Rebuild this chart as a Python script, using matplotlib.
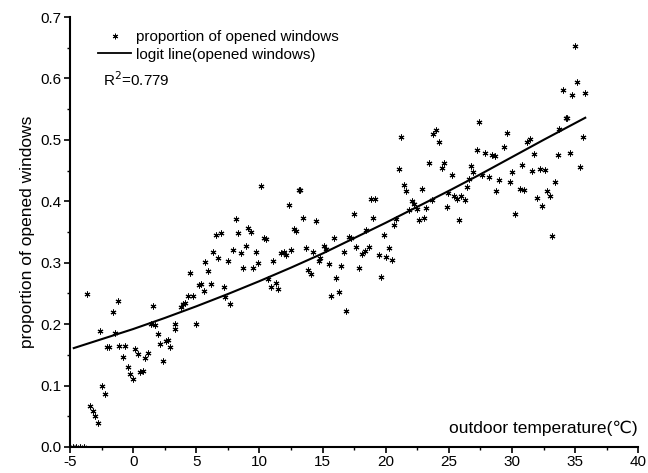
"""
Proportion of opened windows against outdoor temperature, with logit line.
"""
import matplotlib
matplotlib.use("Agg")
from matplotlib import pyplot as plt
from matplotlib.lines import Line2D
from matplotlib.ticker import MultipleLocator

plt.rcParams['font.family'] = ['Liberation Sans', 'DejaVu Sans', 'Noto Sans CJK SC']
plt.rcParams['axes.unicode_minus'] = False

temperature = [
    -4.8, -4.5, -4.2, -3.9, -3.62, -3.38, -3.20, -3.02, -2.81, -2.60, -2.45, -2.24, -2.09, -1.93,
    -1.62, -1.41, -1.23, -1.09, -0.84, -0.68, -0.44, -0.23, -0.02, 0.13, 0.37, 0.55, 0.76, 0.96,
    1.17, 1.38, 1.56, 1.72, 1.93, 2.13, 2.37, 2.60, 2.73, 2.94, 3.28, 3.34, 3.77, 3.98, 4.14, 4.38,
    4.53, 4.74, 4.95, 5.21, 5.37, 5.60, 5.73, 5.94, 6.15, 6.30, 6.54, 6.74, 6.93, 7.16, 7.29, 7.52,
    7.71, 7.92, 8.13, 8.34, 8.52, 8.70, 8.93, 9.09, 9.32, 9.53, 9.71, 9.90, 10.13, 10.36, 10.52,
    10.68, 10.94, 11.10, 11.30, 11.50, 11.72, 11.93, 12.13, 12.32, 12.50, 12.71, 12.92, 13.10,
    13.25, 13.49, 13.70, 13.83, 14.06, 14.27, 14.48, 14.69, 14.79, 15.10, 15.26, 15.50, 15.70,
    15.91, 16.04, 16.27, 16.48, 16.66, 16.88, 17.13, 17.29, 17.45, 17.66, 17.87, 18.13, 18.34,
    18.44, 18.65, 18.85, 19.00, 19.14, 19.48, 19.61, 19.87, 20.05, 20.26, 20.47, 20.65, 20.78,
    21.07, 21.25, 21.46, 21.62, 21.82, 22.07, 22.27, 22.48, 22.60, 22.87, 23.05, 23.20, 23.44,
    23.70, 23.77, 23.98, 24.22, 24.43, 24.63, 24.82, 24.95, 25.26, 25.42, 25.63, 25.80, 25.99,
    26.25, 26.41, 26.56, 26.77, 26.95, 27.21, 27.42, 27.63, 27.87, 28.20, 28.44, 28.65, 28.77,
    28.98, 29.38, 29.58, 29.82, 30.00, 30.20, 30.60, 30.80, 30.96, 31.20, 31.41, 31.59, 31.77,
    32.00, 32.19, 32.40, 32.60, 32.76, 33.02, 33.18, 33.41, 33.62, 33.75, 34.00, 34.27, 34.37,
    34.58, 34.77, 34.97, 35.18, 35.37, 35.60, 35.78,
]
proportion = [
    0.0, 0.0, 0.0, 0.0, 0.249, 0.067, 0.059, 0.050, 0.039, 0.189, 0.099, 0.086, 0.163, 0.163,
    0.219, 0.186, 0.237, 0.164, 0.147, 0.164, 0.130, 0.119, 0.111, 0.159, 0.151, 0.122, 0.123, 0.145,
    0.153, 0.201, 0.230, 0.199, 0.184, 0.168, 0.140, 0.173, 0.174, 0.162, 0.192, 0.201, 0.228, 0.232,
    0.234, 0.246, 0.284, 0.246, 0.201, 0.264, 0.265, 0.254, 0.301, 0.287, 0.265, 0.318, 0.345, 0.308,
    0.349, 0.261, 0.244, 0.303, 0.233, 0.320, 0.371, 0.349, 0.316, 0.292, 0.327, 0.356, 0.350, 0.292,
    0.318, 0.299, 0.425, 0.341, 0.338, 0.273, 0.261, 0.303, 0.267, 0.258, 0.316, 0.317, 0.313, 0.394,
    0.321, 0.355, 0.352, 0.419, 0.419, 0.372, 0.324, 0.288, 0.281, 0.317, 0.368, 0.302, 0.308, 0.328,
    0.322, 0.298, 0.246, 0.340, 0.275, 0.252, 0.294, 0.318, 0.221, 0.342, 0.340, 0.379, 0.326, 0.292,
    0.315, 0.319, 0.353, 0.325, 0.403, 0.372, 0.404, 0.312, 0.277, 0.345, 0.310, 0.324, 0.304, 0.362,
    0.371, 0.453, 0.504, 0.427, 0.416, 0.386, 0.401, 0.396, 0.388, 0.370, 0.420, 0.373, 0.389, 0.462,
    0.402, 0.510, 0.516, 0.496, 0.454, 0.462, 0.390, 0.414, 0.442, 0.408, 0.404, 0.369, 0.409, 0.402,
    0.423, 0.436, 0.458, 0.448, 0.484, 0.529, 0.443, 0.479, 0.440, 0.476, 0.473, 0.416, 0.434, 0.488,
    0.511, 0.432, 0.448, 0.379, 0.420, 0.459, 0.418, 0.496, 0.501, 0.450, 0.477, 0.405, 0.453, 0.393,
    0.451, 0.417, 0.409, 0.344, 0.432, 0.476, 0.517, 0.581, 0.535, 0.536, 0.478, 0.573, 0.653, 0.594,
    0.456, 0.505, 0.577,
]

# Logit line at a few temperatures
logit_temp = [-4.7, 0.0, 2.5, 5.0, 7.5, 10.0, 12.5, 15.0, 17.5, 20.0, 22.5, 25.0, 27.5, 30.0, 32.5, 35.8]
logit_prop = [0.161, 0.192, 0.210, 0.229, 0.249, 0.270, 0.292, 0.315, 0.340, 0.365, 0.391, 0.417,
              0.444, 0.472, 0.500, 0.536]

ASTERISK = (6, 2, 0)

fig = plt.figure(figsize=(6.48, 4.73), dpi=100)
ax = fig.add_axes([0.108, 0.055, 0.877, 0.909])

ax.plot(temperature, proportion, linestyle='none', marker=ASTERISK, markersize=4.2,
        markeredgewidth=0.75, color='black')
ax.plot(logit_temp, logit_prop, color='black', linewidth=1.5)

ax.set_xlim(-5, 40)
ax.set_ylim(0, 0.7)
ax.xaxis.set_major_locator(MultipleLocator(5))
ax.xaxis.set_minor_locator(MultipleLocator(2.5))
ax.yaxis.set_major_locator(MultipleLocator(0.1))
ax.yaxis.set_minor_locator(MultipleLocator(0.05))
ax.yaxis.set_major_formatter(plt.FormatStrFormatter('%.1f'))

for side in ['top', 'right']:
    ax.spines[side].set_visible(False)
for side in ['left', 'bottom']:
    ax.spines[side].set_linewidth(1.5)
ax.tick_params(which='major', direction='out', length=4, width=1.2, labelsize=11, pad=2)
ax.tick_params(which='minor', direction='out', length=2.5, width=1.0)

ax.set_ylabel('proportion of opened windows', fontsize=12.5, labelpad=4)
ax.text(0.998, 0.025, 'outdoor temperature(\u2103)', transform=ax.transAxes,
        ha='right', va='bottom', fontsize=12.5)

handles = [
    Line2D([], [], linestyle='none', marker=ASTERISK, markersize=4, markeredgewidth=0.7, color='black'),
    Line2D([], [], color='black', linewidth=1.3),
]
ax.legend(handles, ['proportion of opened windows', 'logit line(opened windows)'],
          loc='upper left', bbox_to_anchor=(0.03, 0.995), frameon=False, fontsize=11,
          handlelength=2.2, handletextpad=0.3, labelspacing=0.25, borderpad=0.2)
ax.text(0.058, 0.855, 'R$^2$=0.779', transform=ax.transAxes, fontsize=11, va='center')

plt.savefig('out.png', dpi=100)
